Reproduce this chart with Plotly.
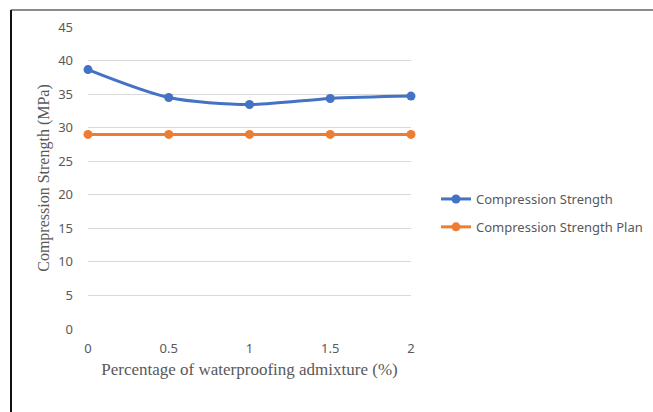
import plotly.graph_objects as go

# Admixture dosage (% by weight of cement)
admixture_pct = [0, 0.5, 1, 1.5, 2]
# Measured compressive strength (MPa)
strength_measured = [38.65, 34.5, 33.45, 34.35, 34.7]
# Design (planned) compressive strength (MPa)
strength_plan = [29, 29, 29, 29, 29]

x_ticks = [0, 0.5, 1, 1.5, 2]
x_tick_text = ["0", "0.5", "1", "1.5", "2"]
y_ticks = [0, 5, 10, 15, 20, 25, 30, 35, 40, 45]

W, H = 653, 412
ML, MR, MT, MB = 88, 242, 27, 83
plot_w = W - ML - MR
plot_h = H - MT - MB

tick_font = dict(family="Noto Sans", size=13, color="#595959")

fig = go.Figure()
fig.add_trace(go.Scatter(
    x=admixture_pct, y=strength_measured, name="Compression Strength",
    legendgroup="measured",
    mode="lines+markers", line=dict(color="#4472C4", width=3, shape="spline", smoothing=0.8),
    marker=dict(size=9, color="#4472C4"), cliponaxis=False,
))
fig.add_trace(go.Scatter(
    x=admixture_pct, y=strength_plan, name="Compression Strength Plan",
    legendgroup="plan",
    mode="lines+markers", line=dict(color="#ED7D31", width=3),
    marker=dict(size=9, color="#ED7D31"), cliponaxis=False,
))


def px_x(p):
    return (p - ML) / plot_w


def px_y(p):
    return (H - MB - p) / plot_h


# Frame lines around the figure
fig.add_shape(type="line", xref="paper", yref="paper",
              x0=px_x(11), x1=px_x(653), y0=px_y(10), y1=px_y(10),
              line=dict(color="#8c8c8c", width=2))
fig.add_shape(type="line", xref="paper", yref="paper",
              x0=px_x(11), x1=px_x(11), y0=px_y(10), y1=px_y(412),
              line=dict(color="#111111", width=2))

fig.update_layout(
    width=W, height=H,
    margin=dict(l=ML, r=MR, t=MT, b=MB, autoexpand=False),
    paper_bgcolor="white", plot_bgcolor="white",
    showlegend=True,
    legend=dict(xref="container", yref="container",
                x=436 / W, y=1 - 213 / H, xanchor="left", yanchor="middle",
                font=dict(family="Noto Sans", size=13, color="#595959"),
                bgcolor="rgba(0,0,0,0)", itemwidth=30, tracegroupgap=8),
    xaxis=dict(range=[0, 2], tickvals=x_ticks, ticktext=x_tick_text,
               showgrid=False, zeroline=False, showline=False, ticks="",
               tickfont=tick_font, ticklabelstandoff=10,
               title=dict(text="Percentage of waterproofing admixture (%)",
                          font=dict(family="Liberation Serif", size=17, color="#595959"),
                          standoff=7)),
    yaxis=dict(range=[0, 45], tickvals=y_ticks, showgrid=True, gridcolor="#d9d9d9",
               gridwidth=1, zeroline=False, showline=False, ticks="",
               tickfont=tick_font, ticklabelstandoff=14,
               title=dict(text="Compression Strength (MPa)",
                          font=dict(family="Liberation Serif", size=16, color="#595959"),
                          standoff=4)),
)

fig.write_html("out.html")
